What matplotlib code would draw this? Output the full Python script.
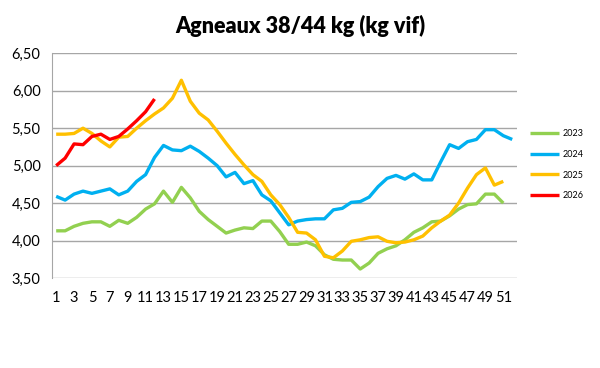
import matplotlib.pyplot as plt
from matplotlib.ticker import MultipleLocator, FuncFormatter

weeks = list(range(1, 53))

y2023 = [4.13, 4.13, 4.19, 4.23, 4.25, 4.25, 4.19, 4.27, 4.23, 4.31,
         4.42, 4.49, 4.66, 4.51, 4.71, 4.57, 4.39, 4.28, 4.19, 4.10,
         4.14, 4.17, 4.16, 4.26, 4.26, 4.12, 3.95, 3.95, 3.98, 3.93,
         3.81, 3.75, 3.74, 3.74, 3.62, 3.70, 3.83, 3.89, 3.93, 4.01,
         4.11, 4.17, 4.25, 4.26, 4.33, 4.42, 4.48, 4.49, 4.62, 4.62,
         4.50]
y2024 = [4.59, 4.54, 4.62, 4.66, 4.63, 4.66, 4.69, 4.61, 4.66, 4.79,
         4.88, 5.11, 5.27, 5.21, 5.20, 5.26, 5.19, 5.10, 5.00, 4.85,
         4.91, 4.76, 4.80, 4.61, 4.53, 4.37, 4.21, 4.26, 4.28, 4.29,
         4.29, 4.41, 4.43, 4.51, 4.52, 4.58, 4.72, 4.83, 4.87, 4.82,
         4.89, 4.81, 4.81, 5.05, 5.28, 5.23, 5.32, 5.35, 5.48, 5.48,
         5.40, 5.35]
y2025 = [5.42, 5.42, 5.43, 5.50, 5.43, 5.33, 5.25, 5.38, 5.39, 5.50,
         5.60, 5.69, 5.77, 5.90, 6.14, 5.86, 5.70, 5.61, 5.46, 5.30,
         5.15, 5.01, 4.88, 4.79, 4.61, 4.48, 4.31, 4.11, 4.10, 4.01,
         3.79, 3.77, 3.86, 3.99, 4.01, 4.04, 4.05, 3.99, 3.97, 3.98,
         4.01, 4.06, 4.17, 4.26, 4.34, 4.50, 4.70, 4.88, 4.97, 4.74,
         4.79]
y2026 = [5.00, 5.10, 5.29, 5.28, 5.39, 5.42, 5.35, 5.39, 5.49, 5.60,
         5.72, 5.89]

series = [("2023", y2023, "#92D050"),
          ("2024", y2024, "#00B0F0"),
          ("2025", y2025, "#FFC000"),
          ("2026", y2026, "#FF0000")]

plt.rcParams['font.family'] = ['Lato', 'DejaVu Sans']

fig = plt.figure(figsize=(6, 3.68), dpi=100)
ax = fig.add_axes([51.7 / 600, 1 - 278 / 368, 465 / 600, (278 - 53.3) / 368])

for name, vals, col in series:
    ax.plot(weeks[:len(vals)], vals, color=col, lw=2.4, label=name,
            solid_joinstyle='round', solid_capstyle='butt')

ax.set_xlim(0.5, 52.5)
ax.set_ylim(3.5, 6.5)
ax.yaxis.set_major_locator(MultipleLocator(0.5))
ax.yaxis.set_major_formatter(FuncFormatter(lambda v, p: f"{v:.2f}".replace('.', ',')))
ax.set_xticks(weeks[::2])
ax.grid(axis='y', color='#A6A6A6', lw=1)
ax.set_axisbelow(True)
for s in ['top', 'right', 'bottom']:
    ax.spines[s].set_visible(False)
ax.spines['left'].set_color('#A6A6A6')
ax.tick_params(length=0, labelsize=10.5, colors='black')
ax.tick_params(axis='x', pad=9)
ax.tick_params(axis='y', pad=8)

fig.text(0.5, 1 - 26 / 368, "Agneaux 38/44 kg (kg vif)", ha='center', va='center',
         fontsize=15.5, fontweight='heavy')

fig.legend(loc='upper left', bbox_to_anchor=(522 / 600, 1 - 121 / 368),
           frameon=False, fontsize=6.5, handlelength=3.2, labelspacing=1.3,
           handletextpad=0.4)

fig.savefig("out.png", dpi=100)
